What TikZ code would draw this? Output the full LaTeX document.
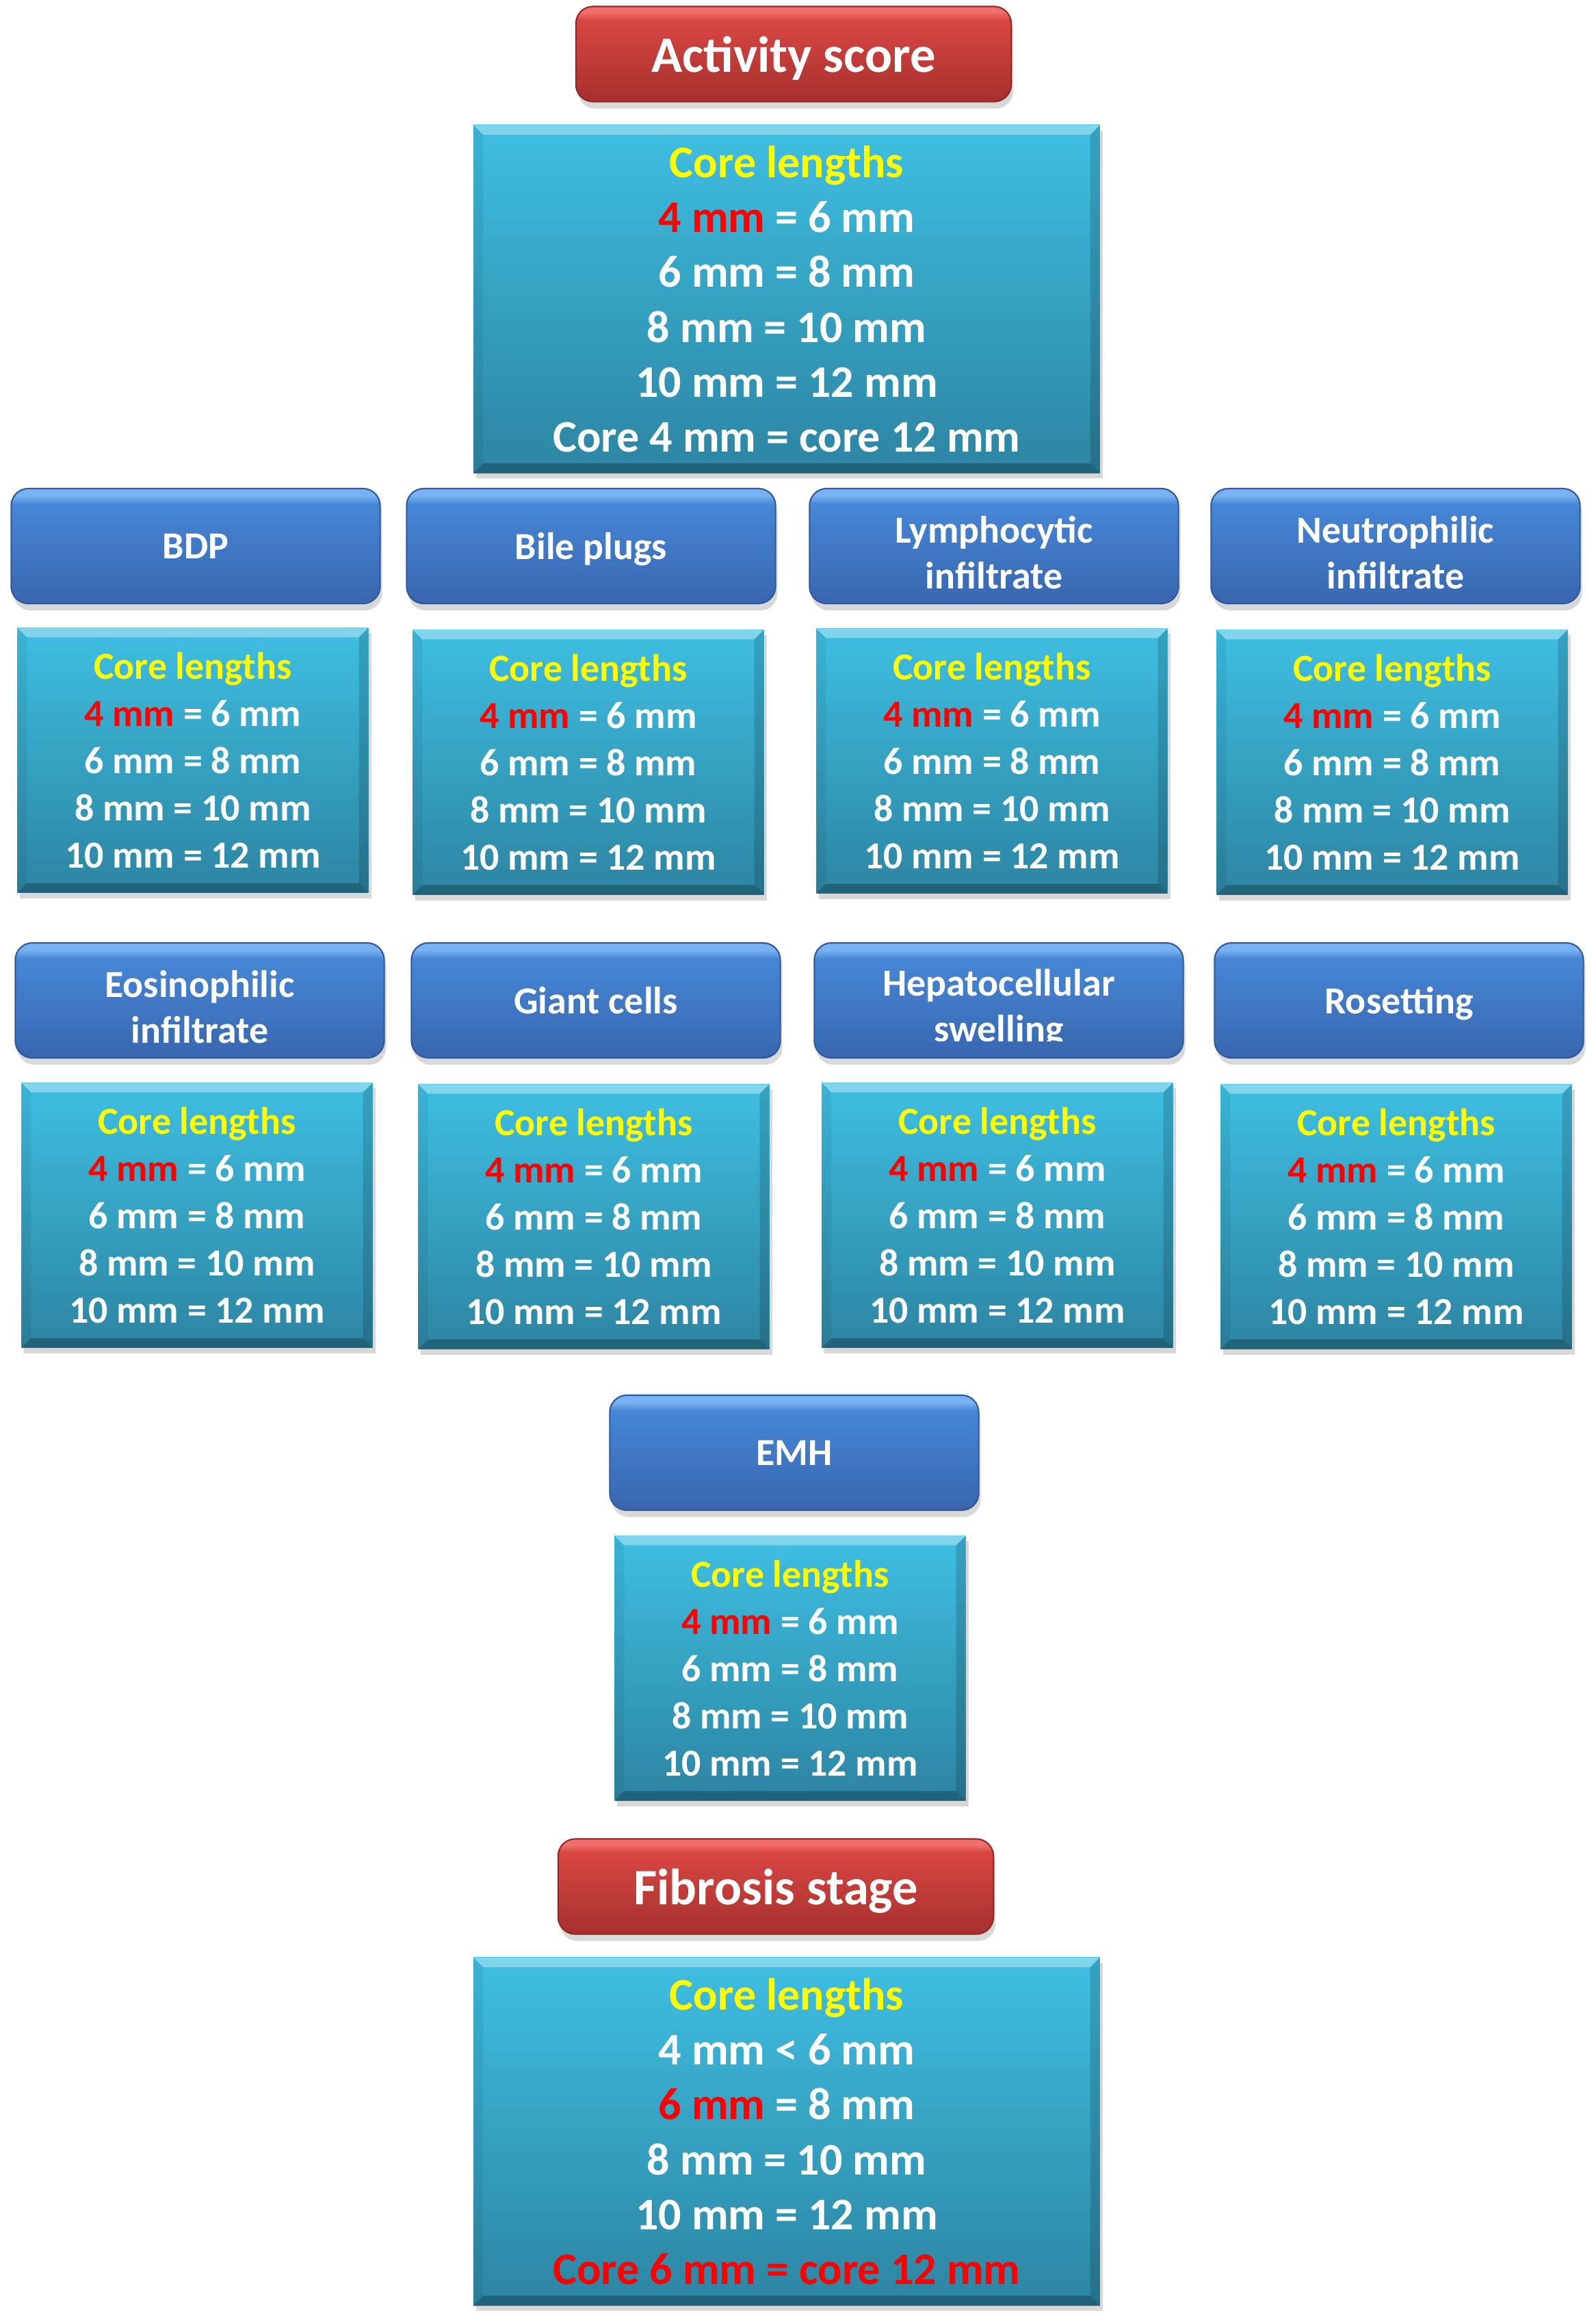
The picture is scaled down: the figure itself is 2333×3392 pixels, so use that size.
\documentclass[tikz,border=0pt]{standalone}
\usepackage{fontspec}
\setmainfont{Carlito}
\usetikzlibrary{shadows}

\definecolor{coreyellow}{RGB}{255,255,0}
\definecolor{corered}{RGB}{255,0,0}
\definecolor{blueHi}{RGB}{120,178,242}
\definecolor{blueTop}{RGB}{70,134,214}
\definecolor{blueLo}{RGB}{56,102,174}
\definecolor{blueEdge}{RGB}{48,88,156}
\definecolor{redHi}{RGB}{242,112,108}
\definecolor{redTop}{RGB}{216,70,66}
\definecolor{redLo}{RGB}{166,48,45}
\definecolor{redEdge}{RGB}{146,40,38}
\definecolor{cyanTop}{RGB}{62,191,226}
\definecolor{cyanLo}{RGB}{45,132,162}

\pgfdeclareverticalshading{blueshade}{100bp}{color(0bp)=(blueLo); color(25bp)=(blueLo); color(68bp)=(blueTop); color(72bp)=(blueHi); color(75bp)=(blueHi); color(100bp)=(blueHi)}
\pgfdeclareverticalshading{redshade}{100bp}{color(0bp)=(redLo); color(25bp)=(redLo); color(68bp)=(redTop); color(72bp)=(redHi); color(75bp)=(redHi); color(100bp)=(redHi)}
\pgfdeclareverticalshading{cyanshade}{100bp}{color(0bp)=(cyanLo); color(25bp)=(cyanLo); color(75bp)=(cyanTop); color(100bp)=(cyanTop)}

% text of the small core boxes
\newcommand{\corerows}{\textcolor{coreyellow}{Core lengths}\\\textcolor{corered}{4 mm} = 6 mm\\6 mm = 8 mm\\8 mm = 10 mm\\10 mm = 12 mm}
% pushes two-line titles a little down
\newcommand{\topgap}{\rule{0pt}{1.05em}}

\tikzset{
  bevel/.style={path picture={
    \fill[white,opacity=0.35] (path picture bounding box.north west) -- (path picture bounding box.north east) -- ([shift={(-14,14)}]path picture bounding box.north east) -- ([shift={(14,14)}]path picture bounding box.north west) -- cycle;
    \fill[black,opacity=0.06] (path picture bounding box.north west) -- ([shift={(14,14)}]path picture bounding box.north west) -- ([shift={(14,-14)}]path picture bounding box.south west) -- (path picture bounding box.south west) -- cycle;
    \fill[black,opacity=0.15] (path picture bounding box.north east) -- ([shift={(-14,14)}]path picture bounding box.north east) -- ([shift={(-14,-14)}]path picture bounding box.south east) -- (path picture bounding box.south east) -- cycle;
    \fill[black,opacity=0.25] (path picture bounding box.south west) -- ([shift={(14,-14)}]path picture bounding box.south west) -- ([shift={(-14,-14)}]path picture bounding box.south east) -- (path picture bounding box.south east) -- cycle;
  }},
  headtext/.style={align=center,text=white,font=\fontsize{15.9}{19.1}\selectfont\bfseries},
  headbox/.style={headtext,text depth=0pt,rounded corners=0.25cm,shading=blueshade,draw=blueEdge,line width=0.6pt,
    minimum width=5.39cm,minimum height=1.68cm,drop shadow={opacity=0.3,shadow xshift=0.3mm,shadow yshift=-1mm}},
  scorebox/.style={headbox,shading=redshade,draw=redEdge,minimum width=6.36cm,minimum height=1.39cm,
    font=\fontsize{21.2}{25}\selectfont\bfseries},
  corebox/.style={rectangle,shading=cyanshade,bevel,minimum width=5.13cm,minimum height=3.87cm,align=center,text=white,
    font=\fontsize{15.9}{19.6}\selectfont\bfseries,drop shadow={opacity=0.3,shadow xshift=0.4mm,shadow yshift=-0.8mm}},
  bigcorebox/.style={corebox,minimum width=9.15cm,minimum height=5.08cm,font=\fontsize{18.8}{22.8}\selectfont\bfseries}
}

\begin{document}
\begin{tikzpicture}[x=0.01cm,y=-0.01cm]
\useasboundingbox[fill=white] (0,0) rectangle (2333,3392);

% activity score
\node[scorebox] (act) at (1160,79) {Activity score};
\node[bigcorebox] (actcore) at (1150,437) {\textcolor{coreyellow}{Core lengths}\\\textcolor{corered}{4 mm} = 6 mm\\6 mm = 8 mm\\8 mm = 10 mm\\10 mm = 12 mm\\Core 4 mm = core 12 mm};

% first row
\node[headbox] (bdp) at (286,798) {BDP};
\node[headbox] (bile) at (864,798) {Bile plugs};
\node[headbox] (lymph) at (1453,798) {\topgap Lymphocytic\\infiltrate};
\node[headbox] (neut) at (2040,798) {\topgap Neutrophilic\\infiltrate};
\node[corebox] (bdpcore) at (282,1111) {\corerows};
\node[corebox] (bilecore) at (860,1114) {\corerows};
\node[corebox] (lymphcore) at (1450,1112) {\corerows};
\node[corebox] (neutcore) at (2035,1114) {\corerows};

% second row
\node[headbox] (eos) at (292,1462) {\topgap Eosinophilic\\infiltrate};
\node[headbox] (giant) at (871,1462) {Giant cells};
\node[headbox] (hep) at (1460,1462) {};
\begin{scope}
\clip (hep.north west) rectangle ([yshift=0.26cm]hep.south east);
\node[headtext] (heptext) at (1460,1474) {Hepatocellular\\swelling};
\end{scope}
\node[headbox] (rose) at (2045,1462) {Rosetting};
\node[corebox] (eoscore) at (288,1776) {\corerows};
\node[corebox] (giantcore) at (868,1778) {\corerows};
\node[corebox] (hepcore) at (1458,1776) {\corerows};
\node[corebox] (rosecore) at (2041,1778) {\corerows};

% EMH
\node[headbox] (emh) at (1161,2123) {EMH};
\node[corebox] (emhcore) at (1155,2438) {\corerows};

% fibrosis stage
\node[scorebox] (fib) at (1134,2757) {Fibrosis stage};
\node[bigcorebox] (fibcore) at (1150,3115) {\textcolor{coreyellow}{Core lengths}\\4 mm < 6 mm\\\textcolor{corered}{6 mm} = 8 mm\\8 mm = 10 mm\\10 mm = 12 mm\\\textcolor{corered}{Core 6 mm = core 12 mm}};
\end{tikzpicture}
\end{document}
